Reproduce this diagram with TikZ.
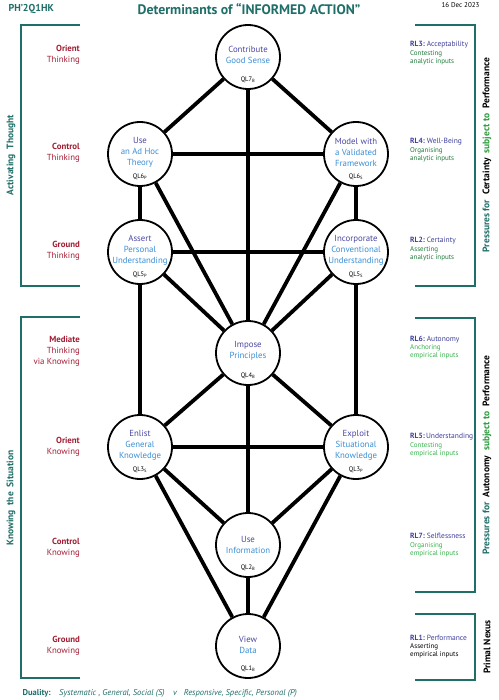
\documentclass[tikz,border=0pt]{standalone}
\usepackage{fontspec}
\setmainfont{PT Sans}
\usetikzlibrary{positioning}
\definecolor{headteal}{HTML}{1F6E68}
\definecolor{rowred}{HTML}{A11D33}
\definecolor{qlpurple}{HTML}{4A47A3}
\definecolor{qlblue}{HTML}{3A8ED4}
\definecolor{rlblue}{HTML}{3E3F9B}
\definecolor{anagreen}{HTML}{1F7A3A}
\definecolor{empgreen}{HTML}{36B24B}
\definecolor{subgreen}{HTML}{2E9A3E}
\tikzset{
  qlcircle/.style={circle,draw,line width=1.8pt,minimum size=64pt,inner sep=0pt},
  qltext/.style={align=center,inner sep=0pt,text=qlblue,
    font=\fontsize{8.8}{11}\selectfont},
  qltag/.style={inner sep=0pt,font=\fontsize{6.5}{7}\selectfont},
  link/.style={line width=3.8pt},
  bracket/.style={draw=headteal,line width=2pt},
  rowlabel/.style={anchor=east,align=right,inner sep=0pt,text=rowred,
    font=\fontsize{8.8}{11}\selectfont},
  rlhead/.style={anchor=west,inner sep=0pt,text=rlblue,
    font=\fontsize{7.5}{8}\selectfont},
  rlinput/.style={align=left,inner sep=0pt,font=\fontsize{7}{8}\selectfont},
  sidelabel/.style={rotate=90,inner sep=0pt,
    font=\fontsize{9.5}{10}\selectfont\bfseries}
}
\begin{document}
\begin{tikzpicture}[x=1pt,y=-1pt]
\useasboundingbox (0,0) rectangle (498,700);

% heading
\node[anchor=west,text=headteal,font=\fontsize{10}{12}\selectfont\bfseries] (code) at (5,9) {PH’2Q1HK};
\node[text=headteal,font=\fontsize{13.8}{16}\selectfont\bfseries] (title) at (249,9) {Determinants of “INFORMED ACTION”};
\node[anchor=east,font=\fontsize{7}{8}\selectfont] (date) at (483,5) {16 Dec 2023};

% the ten levels
\node[qlcircle,label={[qltag,anchor=south,yshift=7pt]south:QL7\textsubscript{B}}] (ql7) at (248,57) {};
\node[qlcircle,label={[qltag,anchor=south,yshift=7pt]south:QL6\textsubscript{P}}] (ql6p) at (140,154) {};
\node[qlcircle,label={[qltag,anchor=south,yshift=7pt]south:QL6\textsubscript{S}}] (ql6s) at (356,154) {};
\node[qlcircle,label={[qltag,anchor=south,yshift=7pt]south:QL5\textsubscript{P}}] (ql5p) at (140,252) {};
\node[qlcircle,label={[qltag,anchor=south,yshift=7pt]south:QL5\textsubscript{S}}] (ql5s) at (356,252) {};
\node[qlcircle,label={[qltag,anchor=south,yshift=7pt]south:QL4\textsubscript{B}}] (ql4) at (248,353) {};
\node[qlcircle,label={[qltag,anchor=south,yshift=7pt]south:QL3\textsubscript{S}}] (ql3s) at (140,447) {};
\node[qlcircle,label={[qltag,anchor=south,yshift=7pt]south:QL3\textsubscript{P}}] (ql3p) at (356,447) {};
\node[qlcircle,label={[qltag,anchor=south,yshift=7pt]south:QL2\textsubscript{B}}] (ql2) at (248,545) {};
\node[qlcircle,label={[qltag,anchor=south,yshift=7pt]south:QL1\textsubscript{B}}] (ql1) at (248,646) {};

\node[qltext] (ql7-text) at ([yshift=2.5pt]ql7.center) {\textcolor{qlpurple}{Contribute}\\Good Sense};
\node[qltext] (ql6p-text) at ([yshift=2pt]ql6p.center) {\textcolor{qlpurple}{Use}\\an Ad Hoc\\Theory};
\node[qltext] (ql6s-text) at ([yshift=2pt]ql6s.center) {\textcolor{qlpurple}{Model with}\\a Validated\\Framework};
\node[qltext] (ql5p-text) at ([yshift=2pt]ql5p.center) {\textcolor{qlpurple}{Assert}\\Personal\\Understanding};
\node[qltext] (ql5s-text) at ([yshift=2pt]ql5s.center) {\textcolor{qlpurple}{Incorporate}\\Conventional\\Understanding};
\node[qltext] (ql4-text) at ([yshift=2pt]ql4.center) {\textcolor{qlpurple}{Impose}\\Principles};
\node[qltext] (ql3s-text) at ([yshift=2pt]ql3s.center) {\textcolor{qlpurple}{Enlist}\\General\\Knowledge};
\node[qltext] (ql3p-text) at ([yshift=2pt]ql3p.center) {\textcolor{qlpurple}{Exploit}\\Situational\\Knowledge};
\node[qltext] (ql2-text) at ([yshift=0.5pt]ql2.center) {\textcolor{qlpurple}{Use}\\Information};
\node[qltext] (ql1-text) at ([yshift=1pt]ql1.center) {\textcolor{qlpurple}{View}\\Data};

% links between levels
\foreach \from/\to in {ql7/ql6p,ql7/ql6s,ql7/ql4,ql6p/ql6s,ql6p/ql5p,ql6s/ql5s,
    ql6p/ql4,ql6s/ql4,ql5p/ql5s,ql5p/ql4,ql5s/ql4,ql5p/ql3s,ql5s/ql3p,
    ql4/ql3s,ql4/ql3p,ql4/ql2,ql3s/ql3p,ql3s/ql2,ql3p/ql2,ql3s/ql1,ql3p/ql1,ql2/ql1}
  \draw[link] (\from) -- (\to);

% left side
\draw[bracket] (80,25) -- (21,25) -- (21,286) -- (80,286);
\draw[bracket] (80,317) -- (21,317) -- (21,678) -- (80,678);
\node[sidelabel,text=headteal] (thought) at (11,155) {Activating\ \ Thought};
\node[sidelabel,text=headteal] (situation) at (11,498) {Knowing\ \ the\ \ Situation};

\node[rowlabel] (orient-t) at (80,54.5) {\textbf{Orient}\\Thinking};
\node[rowlabel] (control-t) at (80,152.5) {\textbf{Control}\\Thinking};
\node[rowlabel] (ground-t) at (80,250.5) {\textbf{Ground}\\Thinking};
\node[rowlabel] (mediate) at (80,351) {\textbf{Mediate}\\Thinking\\via Knowing};
\node[rowlabel] (orient-k) at (80,447) {\textbf{Orient}\\Knowing};
\node[rowlabel] (control-k) at (80,548) {\textbf{Control}\\Knowing};
\node[rowlabel] (ground-k) at (80,645.5) {\textbf{Ground}\\Knowing};

% right side
\draw[bracket] (415,25) -- (475,25) -- (475,286) -- (415,286);
\draw[bracket] (415,318) -- (475,318) -- (475,592) -- (415,592);
\draw[bracket] (415,614) -- (475,614) -- (475,680) -- (415,680);
\node[sidelabel] (certainty) at (487,155) {\textcolor{headteal}{Pressures for}\ \ Certainty\ \ \textcolor{subgreen}{subject to}\ \ Performance};
\node[sidelabel] (autonomy) at (487,455) {\textcolor{headteal}{Pressures for}\ \ Autonomy\ \ \textcolor{subgreen}{subject to}\ \ Performance};
\node[sidelabel] (nexus) at (487,647) {Primal Nexus};

\node[rlhead] (rl3) at (410,45) {\textbf{RL3:}\ Acceptability};
\node[rlinput,text=anagreen,below=2pt of rl3.south west,anchor=north west] (rl3-in) {Contesting\\analytic inputs};
\node[rlhead] (rl4) at (410,142) {\textbf{RL4:}\ Well-Being};
\node[rlinput,text=anagreen,below=2pt of rl4.south west,anchor=north west] (rl4-in) {Organising\\analytic inputs};
\node[rlhead] (rl2) at (410,241) {\textbf{RL2:}\ Certainty};
\node[rlinput,text=anagreen,below=2pt of rl2.south west,anchor=north west] (rl2-in) {Asserting\\analytic inputs};
\node[rlhead] (rl6) at (410,340) {\textbf{RL6:}\ Autonomy};
\node[rlinput,text=empgreen,below=1pt of rl6.south west,anchor=north west] (rl6-in) {Anchoring\\empirical inputs};
\node[rlhead] (rl5) at (410,437) {\textbf{RL5:}\,Understanding};
\node[rlinput,text=empgreen,below=2pt of rl5.south west,anchor=north west] (rl5-in) {Contesting\\empirical inputs};
\node[rlhead] (rl7) at (410,536) {\textbf{RL7:}\ Selflessness};
\node[rlinput,text=empgreen,below=3pt of rl7.south west,anchor=north west] (rl7-in) {Organising\\empirical inputs};
\node[rlhead] (rl1) at (410,638) {\textbf{RL1:}\ Performance};
\node[rlinput,below=2pt of rl1.south west,anchor=north west] (rl1-in) {Asserting\\empirical inputs};

% footer
\node[anchor=west,text=headteal,font=\fontsize{8.5}{9}\selectfont] (duality) at (19,693) {\textbf{Duality:}\quad\textit{Systematic , General, Social (S)\quad v\ \ \ Responsive, Specific, Personal (P)}};
\end{tikzpicture}
\end{document}
